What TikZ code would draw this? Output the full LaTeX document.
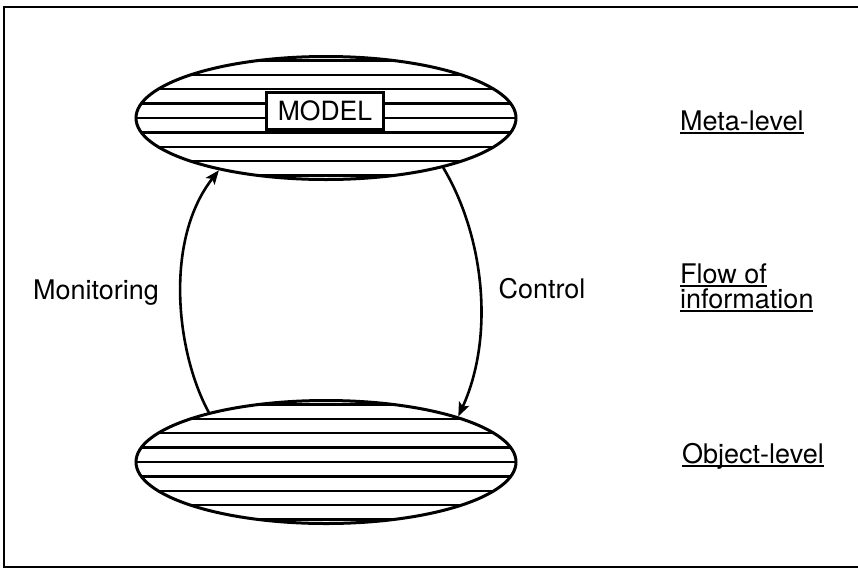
\documentclass[tikz,border=0pt]{standalone}
\usepackage{fontspec}
\setmainfont{TeX Gyre Heros}
\usetikzlibrary{shapes.geometric,arrows.meta}
\newcommand{\myul}[1]{\leavevmode\setbox0\hbox{#1}\rlap{\vrule width \wd0 height -2pt depth 3.8pt}\box0}
\begin{document}
\begin{tikzpicture}[x=1pt,y=-1pt,
  levelell/.style={ellipse, draw, line width=3pt, inner sep=0pt,
    minimum width=380pt, minimum height=123pt,
    path picture={\foreach \k in {-4,...,4}{
      \draw[line width=2.4pt] ([yshift=\k*14.4pt]path picture bounding box.west) -- ([yshift=\k*14.4pt]path picture bounding box.east);}}},
  lbl/.style={font=\fontsize{27}{23}\selectfont, inner sep=0pt},
  flow/.style={line width=2.6pt, -{Stealth[length=14pt,width=11pt,inset=3pt]}}]
\useasboundingbox (0,0) rectangle (858,571);
% frame
\draw[line width=2.8pt] (858,7) -- (4,7) -- (4,567) -- (858,567);
% ellipses
\node[levelell] (meta) at (326,118) {};
\node[levelell] (obj) at (326,462) {};
\node[draw, fill=white, line width=2.4pt, minimum width=117pt, minimum height=37pt, inner sep=0pt,
  font=\fontsize{26.5}{26.5}\selectfont] (model) at (325,111) {MODEL};
% arrows
\draw[flow] (obj.157.6) .. controls (176,352) and (164,240) .. (meta.206);
\draw[flow] (meta.-23) .. controls (484,236) and (495,336) .. (obj.19);
% labels
\node[lbl, anchor=base] (mon) at (96,299) {Monitoring};
\node[lbl, anchor=base] (ctl) at (542,298) {Control};
\node[lbl, anchor=base west] (lmeta) at (680,130) {\myul{Meta-level}};
\node[lbl, anchor=base west, align=left] (lflow) at (680,308) {\myul{Flow of}\\\myul{information}};
\node[lbl, anchor=base west] (lobj) at (682,463) {\myul{Object-level}};
\end{tikzpicture}
\end{document}
